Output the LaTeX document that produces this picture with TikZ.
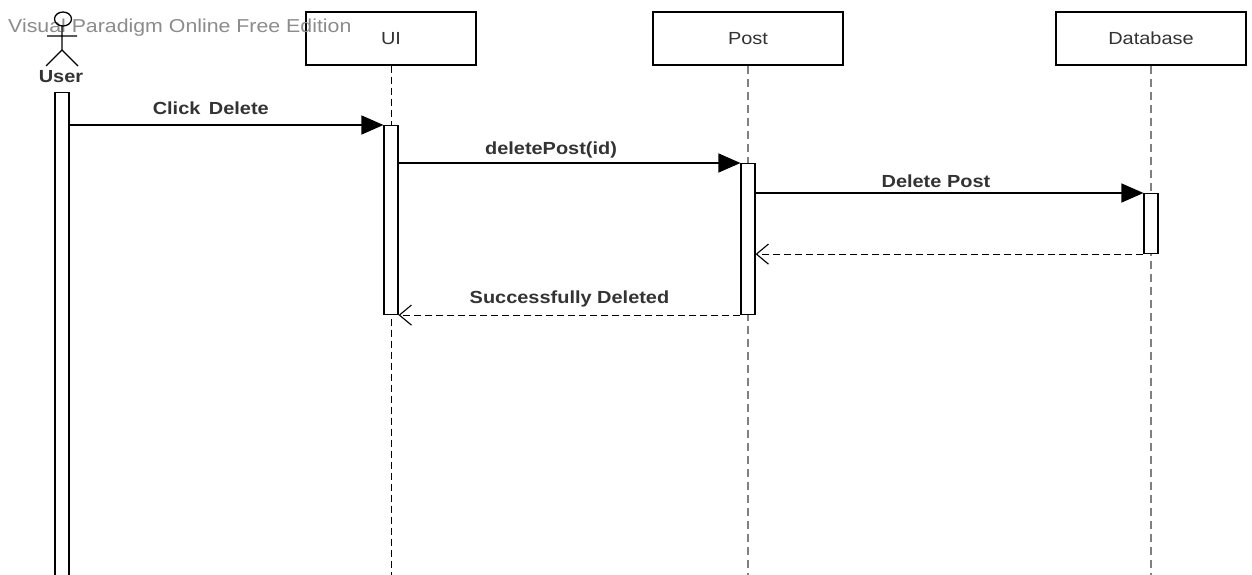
\documentclass[tikz,border=0pt]{standalone}
\usepackage{fontspec}
\setmainfont{Liberation Sans}[FakeStretch=1.14]
\usetikzlibrary{arrows.meta}
\begin{document}
\begin{tikzpicture}[x=1pt,y=-1pt,
  lifebox/.style={draw=black,line width=1.2pt,fill=white,minimum width=170pt,minimum height=53pt,inner sep=0pt,font=\fontsize{17.5}{20}\selectfont,text=black!80},
  actbar/.style={draw=black,line width=1.1pt,fill=white},
  lifeblack/.style={draw=black,line width=1pt,dash pattern=on 7pt off 4pt},
  lifegray/.style={draw=gray,line width=2pt,dash pattern=on 8pt off 5pt},
  msg/.style={draw=black,line width=1.2pt,-{Triangle[length=22pt,width=19pt]}},
  ret/.style={draw=black,line width=1.1pt,dash pattern=on 7pt off 4pt,-{Straight Barb[length=12pt,width=20pt,line width=1.1pt]}},
  lbl/.style={font=\fontsize{17.5}{20}\selectfont\bfseries,text=black!80,inner sep=1pt}]
\useasboundingbox (0,0) rectangle (1252,575);
\fill[white] (0,0) rectangle (1252,575);
% lifeline heads
\node[lifebox] (ui) at (391,38.5) {UI};
\node[lifebox,minimum width=190pt] (post) at (748,38.5) {Post};
\node[lifebox,minimum width=190pt] (db) at (1151,38.5) {Database};
% lifelines
\draw[lifeblack] (ui.south) -- (391,575);
\draw[lifegray] (post.south) -- (748,575);
\draw[lifegray] (db.south) -- (1151,575);
% watermark
\node[font=\fontsize{18.7}{21}\selectfont,text=black!45,anchor=west,inner sep=0pt] (wm) at (8,28) {Visual Paradigm Online Free Edition};
% actor
\coordinate (uhead) at (63,19);
\draw[line width=1.3pt] (uhead) ellipse [x radius=8.5, y radius=7];
\draw[line width=1.3pt] (62,26) -- (62,50) (47,36) -- (77,36) (46,66) -- (62,50) -- (78,66);
\node[font=\fontsize{17.5}{20}\selectfont\bfseries,text=black!80] (user) at (61,77) {User};
% activation bars
\node[actbar,minimum width=14pt,minimum height=483pt,inner sep=0pt,anchor=north] (ua) at (62,92) {};
\node[actbar,minimum width=14pt,minimum height=189pt,inner sep=0pt,anchor=north] (uia) at (391,125) {};
\node[actbar,minimum width=14pt,minimum height=151pt,inner sep=0pt,anchor=north] (pa) at (748,163) {};
\node[actbar,minimum width=14pt,minimum height=60pt,inner sep=0pt,anchor=north] (dba) at (1151,193) {};
% messages
\draw[msg] (ua.east |- 0,125) coordinate (m1s) -- (uia.north west) node[lbl,pos=0.45,above=9pt] (l1) {Click\, Delete};
\draw[msg] (uia.east |- 0,163) coordinate (m2s) -- (pa.north west) node[lbl,pos=0.446,above=3pt] (l2) {deletePost(id)};
\draw[msg] (pa.east |- 0,193) coordinate (m3s) -- (dba.north west) node[lbl,pos=0.465,above=4pt] (l3) {Delete Post};
\draw[ret] (dba.south west) -- (pa.east |- dba.south west);
\draw[ret] (pa.south west) -- (uia.south east) node[lbl,midway,above=6pt] (l4) {Successfully Deleted};
\end{tikzpicture}
\end{document}
